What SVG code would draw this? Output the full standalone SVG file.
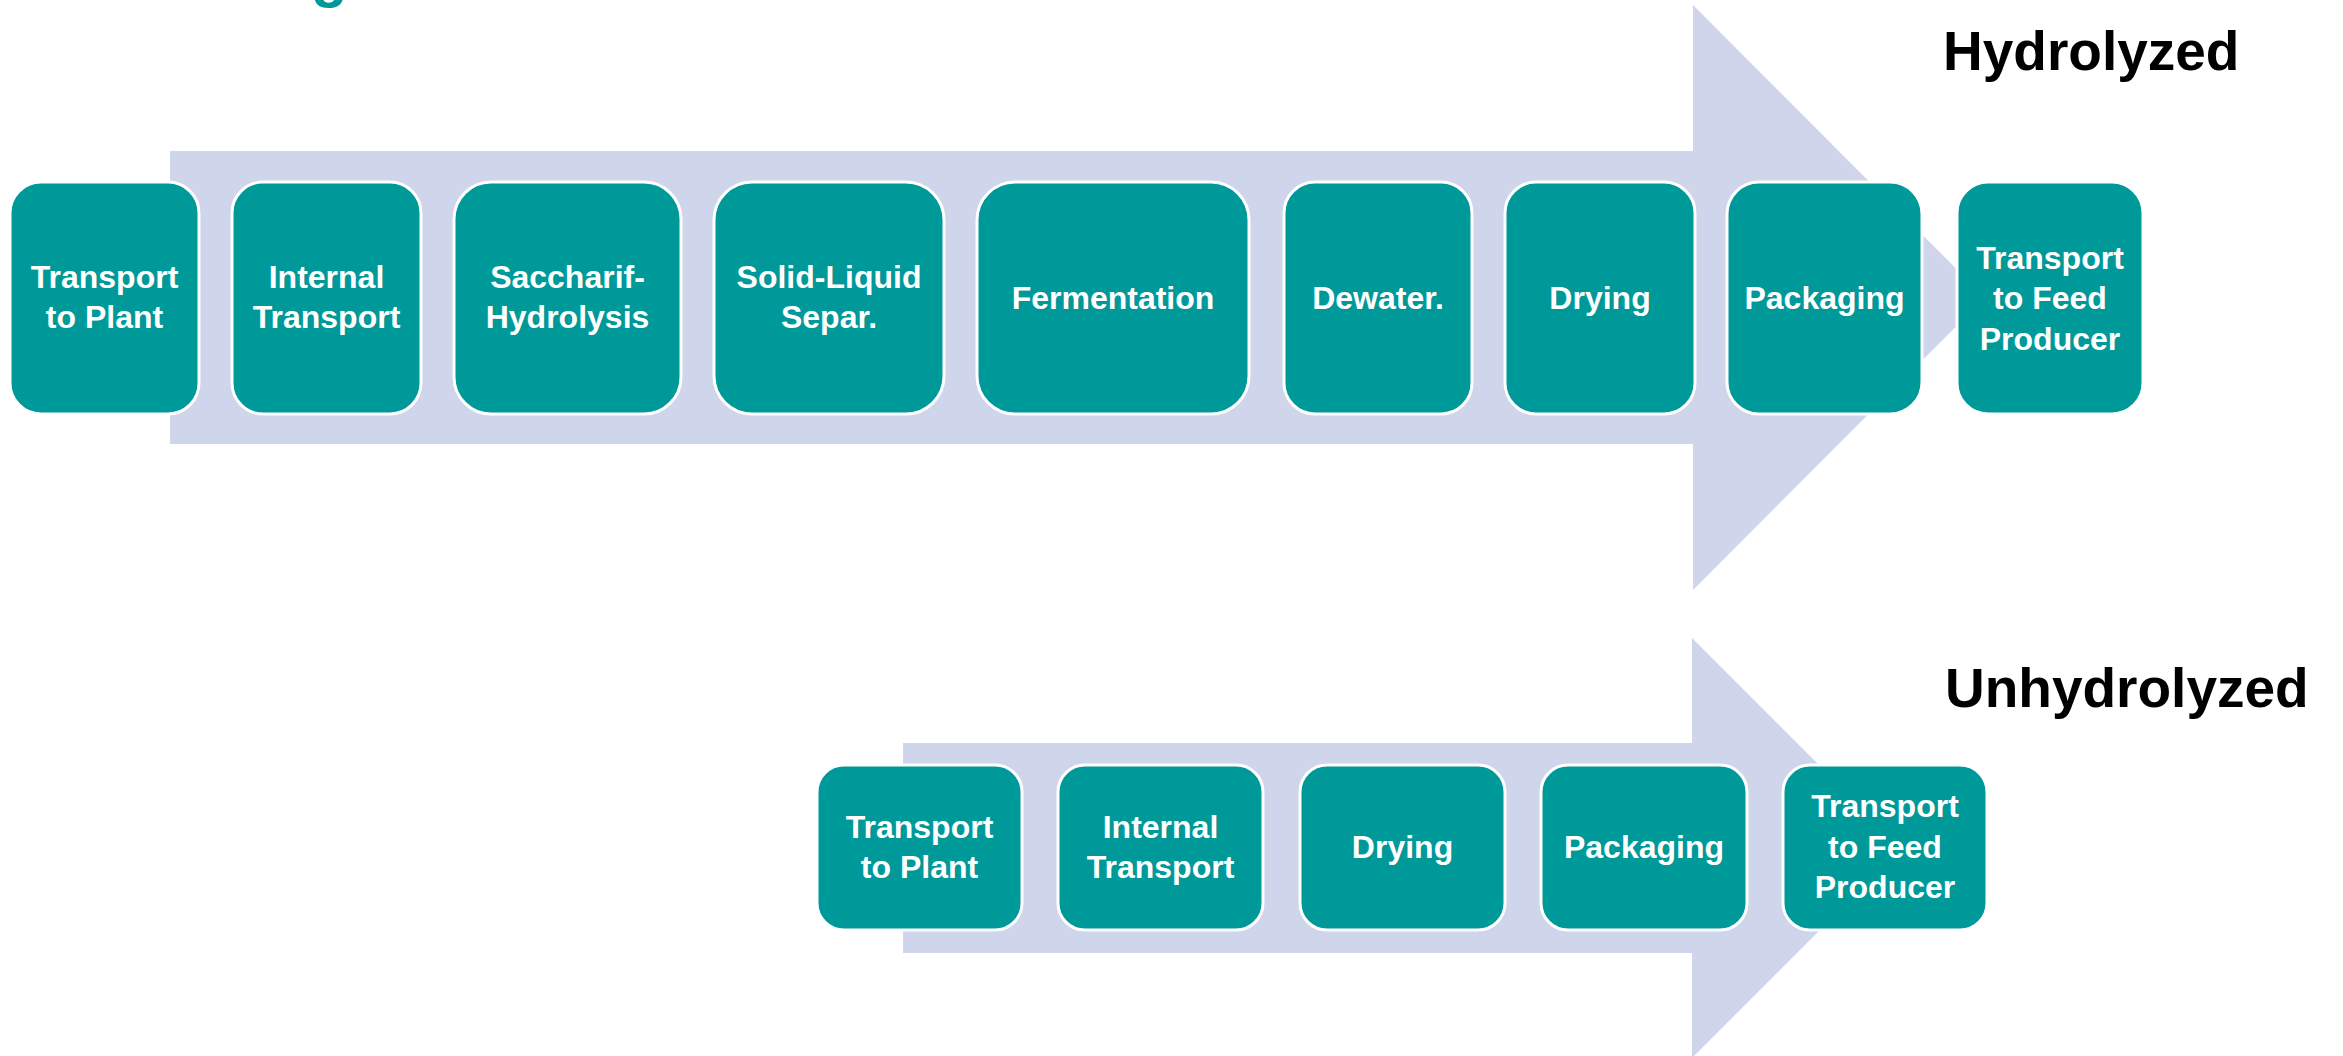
<svg xmlns="http://www.w3.org/2000/svg" width="2343" height="1056" viewBox="0 0 2343 1056">
  <style>
    .flow { fill: #CFD5EA; }
    .step { fill: #009999; stroke: #FFFFFF; stroke-width: 3; }
    .lbl { fill: #FFFFFF; font-family: "Liberation Sans", Arial, sans-serif; font-weight: bold; font-size: 32px; text-anchor: middle; }
    .head { fill: #000000; font-family: "Liberation Sans", Arial, sans-serif; font-weight: bold; font-size: 55px; }
    .title { fill: #009999; font-family: "Liberation Sans", Arial, sans-serif; font-weight: bold; font-size: 60px; }
  </style>
  <rect width="2343" height="1056" fill="#FFFFFF"/>

  <!-- title line, mostly above the canvas -->
  <text class="title" x="311" y="-4">g</text>

  <!-- big block arrows behind each process chain -->
  <g id="connectors">
    <polygon class="flow" points="170,151 1693,151 1693,5 1985,297.5 1693,590 1693,444 170,444"/>
    <polygon class="flow" points="903,743 1692,743 1692,638 1902,848 1692,1058 1692,953 903,953"/>
  </g>

  <text class="head" x="1943" y="70">Hydrolyzed</text>
  <text class="head" x="1945" y="707">Unhydrolyzed</text>

  <!-- hydrolyzed chain -->
  <g id="h-transport-plant">
    <rect class="step" x="10" y="182" width="189" height="232" rx="31" ry="31"/>
    <text class="lbl" x="104.5" y="288">Transport</text>
    <text class="lbl" x="104.5" y="328">to Plant</text>
  </g>
  <g id="h-internal-transport">
    <rect class="step" x="232" y="182" width="189" height="232" rx="31" ry="31"/>
    <text class="lbl" x="326.5" y="288">Internal</text>
    <text class="lbl" x="326.5" y="328">Transport</text>
  </g>
  <g id="h-saccharif-hydrolysis">
    <rect class="step" x="454" y="182" width="227" height="232" rx="37" ry="37"/>
    <text class="lbl" x="567.5" y="288">Saccharif-</text>
    <text class="lbl" x="567.5" y="328">Hydrolysis</text>
  </g>
  <g id="h-solid-liquid">
    <rect class="step" x="714" y="182" width="230" height="232" rx="38" ry="38"/>
    <text class="lbl" x="829" y="288">Solid-Liquid</text>
    <text class="lbl" x="829" y="328">Separ.</text>
  </g>
  <g id="h-fermentation">
    <rect class="step" x="977" y="182" width="272" height="232" rx="38" ry="38"/>
    <text class="lbl" x="1113" y="309">Fermentation</text>
  </g>
  <g id="h-dewater">
    <rect class="step" x="1284" y="182" width="188" height="232" rx="31" ry="31"/>
    <text class="lbl" x="1378" y="309">Dewater.</text>
  </g>
  <g id="h-drying">
    <rect class="step" x="1505" y="182" width="190" height="232" rx="31" ry="31"/>
    <text class="lbl" x="1600" y="309">Drying</text>
  </g>
  <g id="h-packaging">
    <rect class="step" x="1727" y="182" width="195" height="232" rx="32" ry="32"/>
    <text class="lbl" x="1824.5" y="309">Packaging</text>
  </g>
  <g id="h-transport-feed">
    <rect class="step" x="1957" y="182" width="186" height="232" rx="31" ry="31"/>
    <text class="lbl" x="2050" y="269">Transport</text>
    <text class="lbl" x="2050" y="309">to Feed</text>
    <text class="lbl" x="2050" y="350">Producer</text>
  </g>

  <!-- unhydrolyzed chain -->
  <g id="u-transport-plant">
    <rect class="step" x="817" y="765" width="205" height="165" rx="27" ry="27"/>
    <text class="lbl" x="919.5" y="838">Transport</text>
    <text class="lbl" x="919.5" y="878">to Plant</text>
  </g>
  <g id="u-internal-transport">
    <rect class="step" x="1058" y="765" width="205" height="165" rx="27" ry="27"/>
    <text class="lbl" x="1160.5" y="838">Internal</text>
    <text class="lbl" x="1160.5" y="878">Transport</text>
  </g>
  <g id="u-drying">
    <rect class="step" x="1300" y="765" width="205" height="165" rx="27" ry="27"/>
    <text class="lbl" x="1402.5" y="858">Drying</text>
  </g>
  <g id="u-packaging">
    <rect class="step" x="1541" y="765" width="206" height="165" rx="27" ry="27"/>
    <text class="lbl" x="1644" y="858">Packaging</text>
  </g>
  <g id="u-transport-feed">
    <rect class="step" x="1783" y="765" width="204" height="165" rx="27" ry="27"/>
    <text class="lbl" x="1885" y="817">Transport</text>
    <text class="lbl" x="1885" y="858">to Feed</text>
    <text class="lbl" x="1885" y="898">Producer</text>
  </g>
</svg>
